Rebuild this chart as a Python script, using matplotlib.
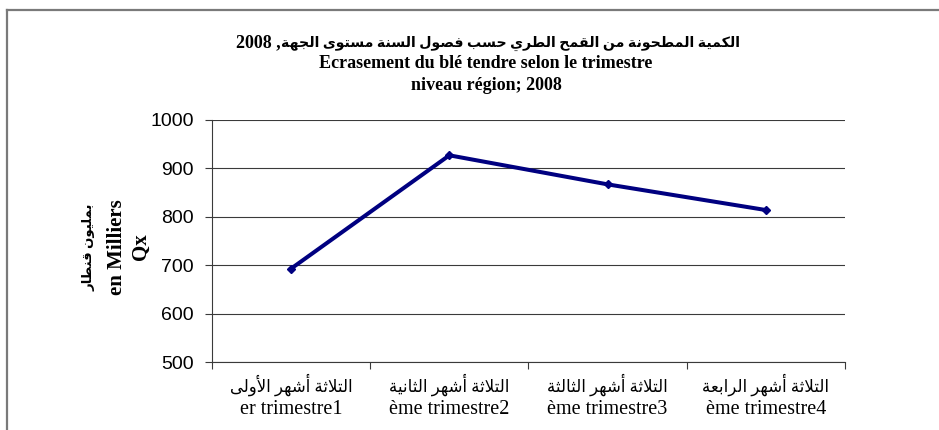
import re
import matplotlib
matplotlib.use("Agg")
import matplotlib.pyplot as plt
from matplotlib.lines import Line2D

# data
quarters_ar = ["التلاثة أشهر الأولى", "التلاثة أشهر الثانية", "التلاثة أشهر الثالثة", "التلاثة أشهر الرابعة"]
quarters_fr = ["er trimestre1", "ème trimestre2", "ème trimestre3", "ème trimestre4"]
values = [693, 927, 867, 814]
y_ticks = [500, 600, 700, 800, 900, 1000]

title_ar = "الكمية المطحونة من القمح الطري حسب فصول السنة مستوى الجهة"
title_year = "2008 ,"
title_fr = ["Ecrasement du blé tendre selon le trimestre", "niveau région; 2008"]
ylabel_lines = ["بمليون قنطار", "en Milliers", "Qx"]

# isolated, final, initial, medial  (None = letter does not join the next one)
FORMS = {
    "ا": ("\ufe8d", "\ufe8e", None, None),
    "أ": ("\ufe83", "\ufe84", None, None),
    "إ": ("\ufe87", "\ufe88", None, None),
    "آ": ("\ufe81", "\ufe82", None, None),
    "ب": ("\ufe8f", "\ufe90", "\ufe91", "\ufe92"),
    "ة": ("\ufe93", "\ufe94", None, None),
    "ت": ("\ufe95", "\ufe96", "\ufe97", "\ufe98"),
    "ث": ("\ufe99", "\ufe9a", "\ufe9b", "\ufe9c"),
    "ج": ("\ufe9d", "\ufe9e", "\ufe9f", "\ufea0"),
    "ح": ("\ufea1", "\ufea2", "\ufea3", "\ufea4"),
    "خ": ("\ufea5", "\ufea6", "\ufea7", "\ufea8"),
    "د": ("\ufea9", "\ufeaa", None, None),
    "ذ": ("\ufeab", "\ufeac", None, None),
    "ر": ("\ufead", "\ufeae", None, None),
    "ز": ("\ufeaf", "\ufeb0", None, None),
    "س": ("\ufeb1", "\ufeb2", "\ufeb3", "\ufeb4"),
    "ش": ("\ufeb5", "\ufeb6", "\ufeb7", "\ufeb8"),
    "ص": ("\ufeb9", "\ufeba", "\ufebb", "\ufebc"),
    "ض": ("\ufebd", "\ufebe", "\ufebf", "\ufec0"),
    "ط": ("\ufec1", "\ufec2", "\ufec3", "\ufec4"),
    "ظ": ("\ufec5", "\ufec6", "\ufec7", "\ufec8"),
    "ع": ("\ufec9", "\ufeca", "\ufecb", "\ufecc"),
    "غ": ("\ufecd", "\ufece", "\ufecf", "\ufed0"),
    "ف": ("\ufed1", "\ufed2", "\ufed3", "\ufed4"),
    "ق": ("\ufed5", "\ufed6", "\ufed7", "\ufed8"),
    "ك": ("\ufed9", "\ufeda", "\ufedb", "\ufedc"),
    "ل": ("\ufedd", "\ufede", "\ufedf", "\ufee0"),
    "م": ("\ufee1", "\ufee2", "\ufee3", "\ufee4"),
    "ن": ("\ufee5", "\ufee6", "\ufee7", "\ufee8"),
    "ه": ("\ufee9", "\ufeea", "\ufeeb", "\ufeec"),
    "و": ("\ufeed", "\ufeee", None, None),
    "ى": ("\ufeef", "\ufef0", None, None),
    "ي": ("\ufef1", "\ufef2", "\ufef3", "\ufef4"),
    "لا": ("\ufefb", "\ufefc", None, None),
    "لأ": ("\ufef7", "\ufef8", None, None),
}


def arabic(text):
    # matplotlib does no Arabic shaping / bidi, so pick presentation forms and reverse
    units = []
    i = 0
    while i < len(text):
        if text[i] == "ل" and text[i + 1:i + 2] in ("ا", "أ"):
            units.append(text[i:i + 2])
            i += 2
        else:
            units.append(text[i])
            i += 1
    out = []
    for k, u in enumerate(units):
        if u not in FORMS:
            out.append(u)
            continue
        prev = units[k - 1] if k > 0 else None
        nxt = units[k + 1] if k + 1 < len(units) else None
        join_prev = prev in FORMS and FORMS[prev][2] is not None
        join_next = FORMS[u][2] is not None and nxt in FORMS
        iso, fin, ini, med = FORMS[u]
        if join_prev and join_next:
            out.append(med)
        elif join_prev:
            out.append(fin)
        elif join_next:
            out.append(ini)
        else:
            out.append(iso)
    vis = "".join(out)[::-1]
    return re.sub(r"[0-9A-Za-z]+", lambda m: m.group(0)[::-1], vis)


SERIF = ["Liberation Serif", "DejaVu Sans"]
W, H = 939, 430


def fx(px):
    return px / W


def fy(py):
    return 1 - py / H


fig = plt.figure(figsize=(9.39, 4.30), dpi=100)
ax = fig.add_axes([0.2258, 0.158, 0.674, 0.563])

x = list(range(len(values)))
ax.plot(x, values, color="#000080", linewidth=2.9, marker="D", markersize=4.5, zorder=3)

ax.set_xlim(-0.5, len(values) - 0.5)
ax.set_ylim(y_ticks[0], y_ticks[-1])
ax.set_yticks(y_ticks)
ax.set_yticklabels([str(v) for v in y_ticks], family="Liberation Sans", fontsize=14)
ax.yaxis.grid(True, color="#3a3a3a", linewidth=0.8)
ax.set_axisbelow(True)

# boundary ticks between categories, French label line as minor tick labels
ax.set_xticks([k - 0.5 for k in range(len(values) + 1)])
ax.set_xticklabels([])
ax.set_xticks(x, minor=True)
ax.set_xticklabels(quarters_fr, minor=True, family="Liberation Serif", fontsize=14.5)
ax.tick_params(axis="x", which="minor", length=0, pad=27)
ax.tick_params(axis="x", which="major", length=5, color="#3a3a3a", direction="out")
ax.tick_params(axis="y", length=5, color="#3a3a3a", pad=8)

# Arabic label line above the French one
for k, lab in zip(x, quarters_ar):
    ax.text(k, -0.092, arabic(lab), transform=ax.get_xaxis_transform(),
            ha="center", va="center", family=SERIF, fontsize=12)

for side in ["top", "right"]:
    ax.spines[side].set_visible(False)
for side in ["left", "bottom"]:
    ax.spines[side].set_color("#3a3a3a")
    ax.spines[side].set_linewidth(0.8)

# title: Arabic line with the year on its left, then two French lines
t_ar = fig.text(fx(740), fy(47), arabic(title_ar), ha="right", va="baseline",
                family=SERIF, fontweight="bold", fontsize=10.2)
ax.annotate(title_year, xy=(0, fy(47)), xycoords=(t_ar, "figure fraction"),
            ha="right", va="baseline", family="Liberation Serif",
            fontweight="bold", fontsize=13, annotation_clip=False)
fig.text(fx(486), fy(63), title_fr[0], ha="center", va="center",
         family="Liberation Serif", fontweight="bold", fontsize=13)
fig.text(fx(486), fy(85), title_fr[1], ha="center", va="center",
         family="Liberation Serif", fontweight="bold", fontsize=13)

# rotated y label, three lines
fig.text(fx(89), fy(247), arabic(ylabel_lines[0]), ha="center", va="center", rotation=90,
         family=SERIF, fontweight="bold", fontsize=9.5)
fig.text(fx(117), fy(247), ylabel_lines[1], ha="center", va="center", rotation=90,
         family="Liberation Serif", fontweight="bold", fontsize=15)
fig.text(fx(141), fy(247), ylabel_lines[2], ha="center", va="center", rotation=90,
         family="Liberation Serif", fontweight="bold", fontsize=15)

# chart frame (cropped at right and bottom like the source)
fig.add_artist(Line2D([0.0075, 1.0], [0.9767, 0.9767], transform=fig.transFigure,
                      color="#7a7a7a", linewidth=1.6))
fig.add_artist(Line2D([0.0075, 0.0075], [0.0, 0.9767], transform=fig.transFigure,
                      color="#7a7a7a", linewidth=1.6))

fig.savefig("out.png", dpi=100)
